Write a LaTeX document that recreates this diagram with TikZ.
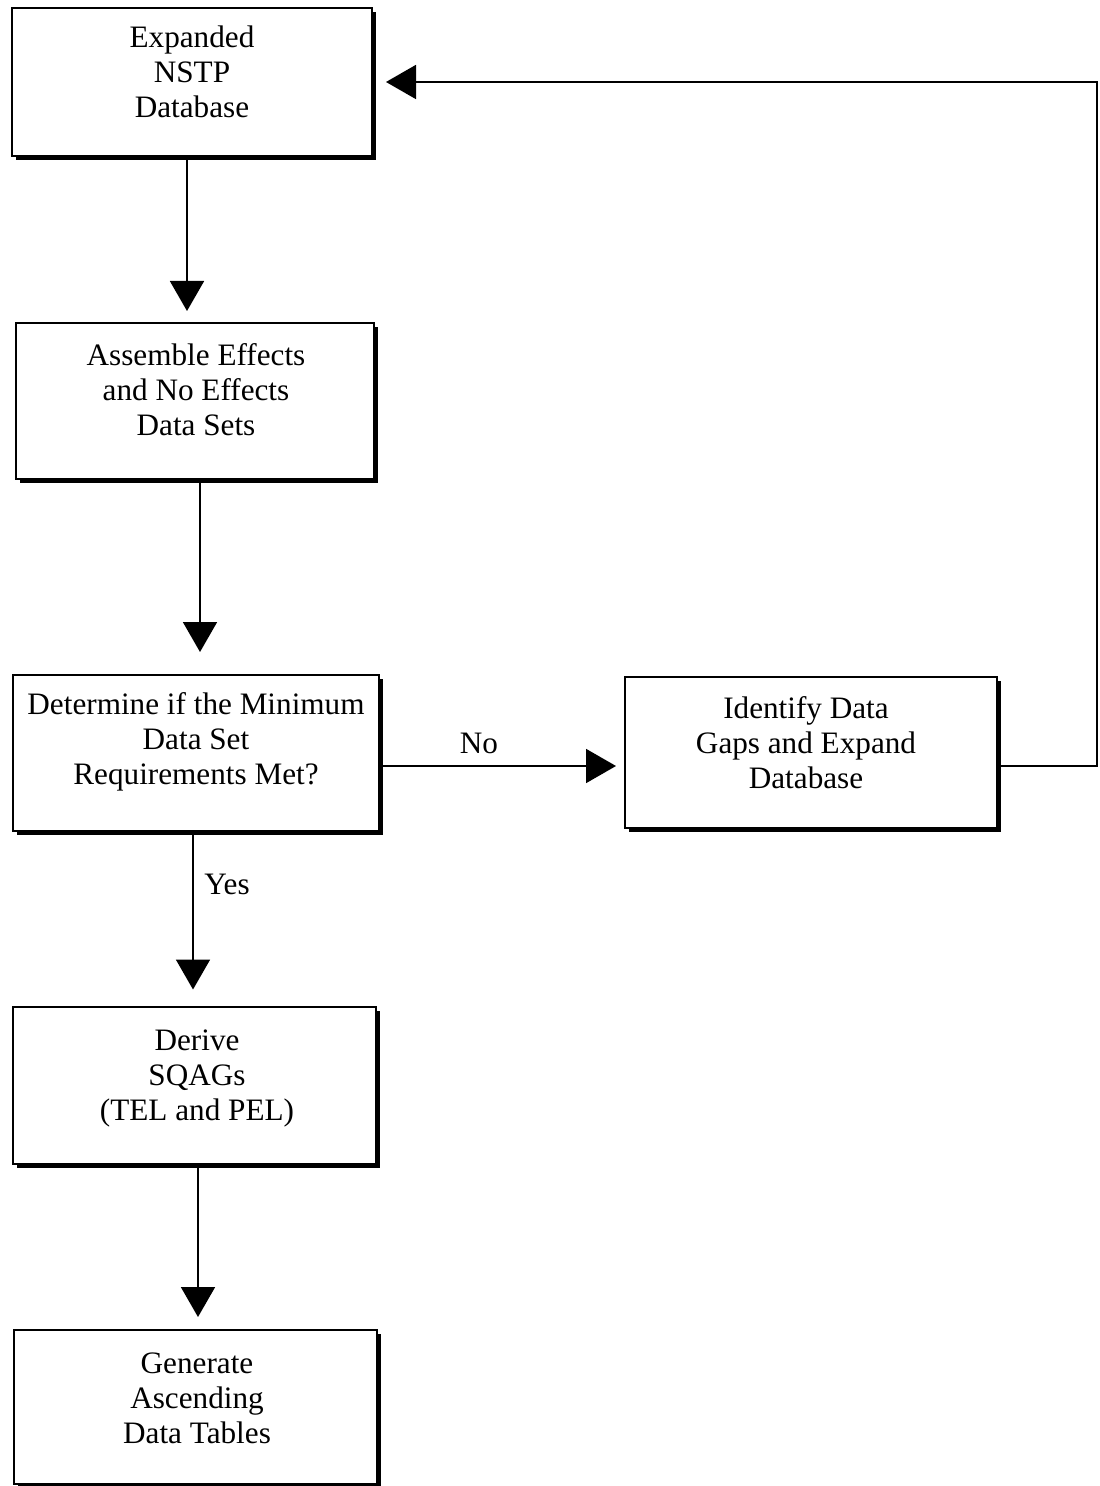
\documentclass[tikz,border=0pt]{standalone}
\usepackage{fontspec}
\setmainfont{Liberation Serif}
\usetikzlibrary{arrows.meta,shadows}
\begin{document}
\begin{tikzpicture}[x=0.5pt,y=-0.5pt,
  box/.style={draw,line width=1pt,fill=white,rectangle,inner sep=0pt,
    drop shadow={shadow xshift=2pt,shadow yshift=-2pt,fill=black,opacity=1}},
  boxtext/.style={align=center,font=\fontsize{15.6pt}{17.5pt}\selectfont},
  arr/.style={line width=0.9pt,-{Triangle[length=15pt,width=17pt]}},
  lbl/.style={font=\fontsize{15.6pt}{17.5pt}\selectfont}]
\useasboundingbox (0,0) rectangle (1099,1486);
\fill[white] (0,0) rectangle (1099,1486);
% boxes
\node[box,minimum width=180pt,minimum height=74pt] (b1) at (192,82)
  {}; \node[boxtext] (t1) at (192,72) {Expanded\\NSTP\\Database};
\node[box,minimum width=179pt,minimum height=78pt] (b2) at (195,401)
  {}; \node[boxtext] (t2) at (196,390) {Assemble Effects\\and No Effects\\Data Sets};
\node[box,minimum width=183pt,minimum height=78pt] (b3) at (196,753)
  {}; \node[boxtext] (t3) at (196,742) {Determine if the Minimum\\Data Set\\Requirements Met?};
\node[box,minimum width=186pt,minimum height=75.5pt] (b4) at (811,752)
  {}; \node[boxtext] (t4) at (806,743) {Identify Data\\Gaps and Expand\\Database};
\node[box,minimum width=181.5pt,minimum height=78.5pt] (b5) at (194.5,1085)
  {}; \node[boxtext] (t5) at (197,1078) {Derive\\SQAGs\\(TEL and PEL)};
\node[box,minimum width=181.5pt,minimum height=77pt] (b6) at (195.5,1407)
  {}; \node[boxtext] (t6) at (197,1398) {Generate\\Ascending\\Data Tables};
% helper coordinates
\coordinate (x1) at (187,0);
\coordinate (x2) at (200,0);
\coordinate (x3) at (193,0);
\coordinate (x4) at (198,0);
\coordinate (yn) at (0,766);
\coordinate (xr) at (1097,0);
% connectors
\draw[arr,shorten >=5.5pt] (b1.south -| x1) -- (b2.north -| x1);
\draw[arr,shorten >=11pt] (b2.south -| x2) -- (b3.north -| x2);
\draw[arr,shorten >=8pt] (b3.south -| x3) -- (b5.north -| x3);
\draw[arr,shorten >=6pt] (b5.south -| x4) -- (b6.north -| x4);
\draw[arr,shorten >=4pt] (b3.east |- yn) -- (b4.west |- yn);
\draw[arr,shorten >=6.5pt] (b4.east |- yn) -- (xr |- yn) -- (xr |- b1.east) -- (b1.east);
% labels
\node[lbl] (no) at (479,743) {No};
\node[lbl] (yes) at (227,884) {Yes};
\end{tikzpicture}
\end{document}
